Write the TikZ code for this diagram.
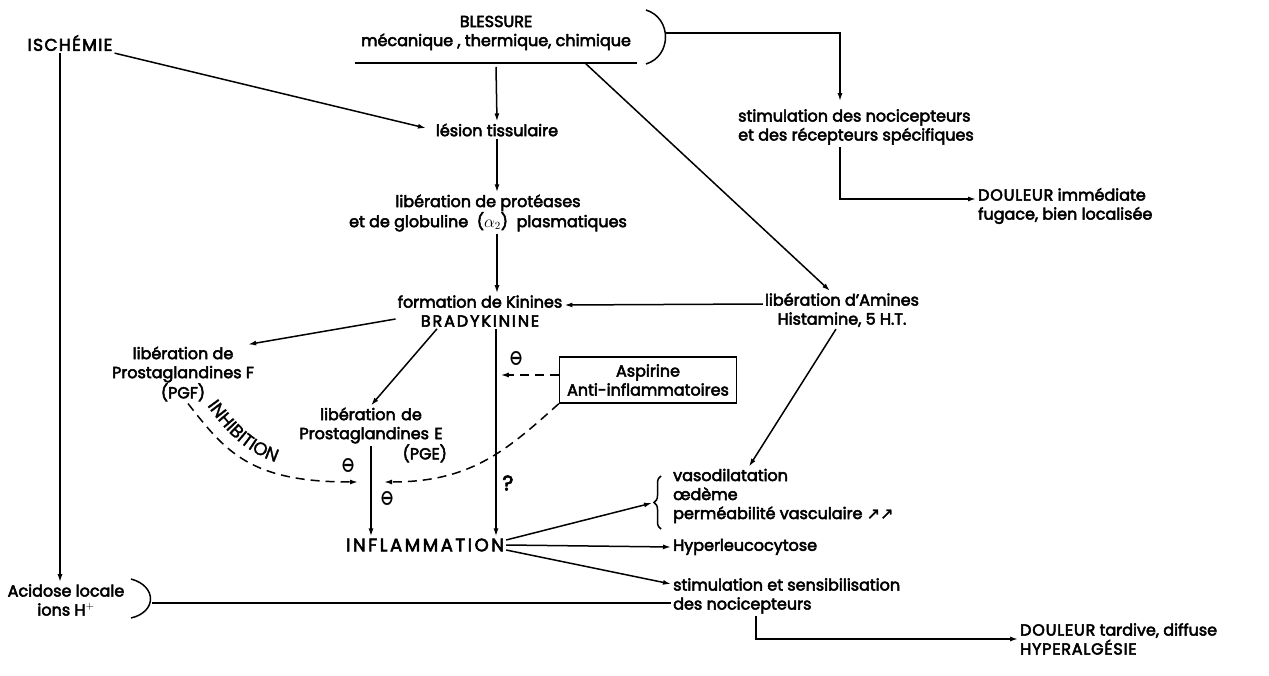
\documentclass[tikz,border=0pt]{standalone}
\usepackage{fontspec}
\usepackage{graphicx}
\setmainfont{Poppins}[FakeBold=3.2]
\newfontfamily\symfont{DejaVu Sans}[FakeBold=1.5]
\newfontfamily\inhfam{Poppins}[FakeBold=1.5]
\usetikzlibrary{arrows.meta,decorations.pathreplacing,decorations.text,calc}
\newcommand{\inhfont}{\inhfam\fontsize{18}{20}\selectfont}
\newcommand{\lsp}[2]{{\addfontfeature{LetterSpace=#1}#2}}
\newcommand{\omin}{\scalebox{0.85}[1.1]{\symfont ⊖}}
\begin{document}
\begin{tikzpicture}[x=1pt,y=-1pt,
  every node/.style={font=\fontsize{16}{19}\selectfont, inner sep=2pt},
  txt/.style={align=center},
  ltxt/.style={align=left},
  ln/.style={line width=1.5pt},
  arr/.style={line width=1.5pt,-{Latex[open,length=8pt,width=5pt]}},
  dsh/.style={dash pattern=on 9pt off 6pt},
  omi/.style={font=\fontsize{19}{21}\selectfont, inner sep=0pt}
]
\useasboundingbox[fill=white] (0,0) rectangle (1269,676);

% nodes
\node[txt] (isch) at (70,43) {\fontsize{17}{19}\selectfont\lsp{8}{ISCHÉMIE}};
\node[txt] (bless) at (496,33) {BLESSURE\\mécanique , thermique, chimique};
\node[txt] (lesion) at (497,130) {lésion tissulaire};
\node[txt] (prot) at (488,213) {libération de protéases\\et de globuline \ ($\alpha_{2}$) \ plasmatiques};
\node[txt] (kin) at (480,311) {formation de Kinines\\\lsp{12}{BRADYKININE}};
\node[txt] (amines) at (842,310) {libération d'Amines\\Histamine, 5 H.T.};
\node[ltxt, anchor=west] (stim) at (736,127) {stimulation des nocicepteurs\\et des récepteurs spécifiques};
\node[ltxt, anchor=west] (doul1) at (976,206) {\lsp{5}{DOULEUR} immédiate\\fugace, bien localisée};
\node[txt] (pgf) at (183,374) {libération de\\Prostaglandines F\\(PGF)};
\node[txt, text width=152pt] (pge) at (371,435) {libération de\\Prostaglandines E\\\makebox[\linewidth][r]{(PGE)}};
\node[txt, draw, line width=1.5pt, minimum width=177pt, minimum height=46pt, inner sep=1pt] (asp) at (648,380) {Aspirine\\Anti-inflammatoires};
\node[txt] (infl) at (425,545) {\fontsize{18}{20}\selectfont\lsp{14}{INFLAMMATION}};
\node[ltxt, anchor=west] (vaso) at (671,496) {vasodilatation\\œdème\\perméabilité vasculaire {\symfont ↗↗}};
\node[ltxt, anchor=west] (hyper) at (671,547) {Hyperleucocytose};
\node[ltxt, anchor=west] (stim2) at (671,596) {stimulation et sensibilisation\\des nocicepteurs};
\node[ltxt, anchor=west] (doul2) at (1018,639) {\lsp{5}{DOULEUR} tardive, diffuse\\\lsp{5}{HYPERALGÉSIE}};
\node[txt] (acid) at (66,600) {Acidose locale\\ions H$^{+}$};
\node[omi] (om1) at (516,358) {\omin};
\node[omi] (om2) at (348,465) {\omin};
\node[omi] (om3) at (387,498) {\omin};
\node[omi, font=\fontsize{21}{22}\selectfont] (q) at (508,483) {?};

% coordinates
\coordinate (ul1) at (355,63);
\coordinate (ul2) at (637,63);
\coordinate (bl) at (496,67);
\coordinate (bd) at (585,63);
\coordinate (pr) at (666,33);
\coordinate (e1) at (384,482);
\coordinate (e2) at (358,482);
\coordinate (bt) at (652,503);
\coordinate (ap) at (152,603);
\coordinate (pgo) at ($(pge.center)+(0,11)$);

% blessure underline and bracket
\draw[ln] (ul1) -- (ul2);
\draw[ln] (646,10) .. controls (672,18) and (672,56) .. (646,64);
% acidose bracket
\draw[ln] (131,579) .. controls (157,586) and (157,612) .. (131,618);
% brace
\draw[ln, decorate, decoration={brace, amplitude=7pt, aspect=0.5}] (661,529) -- (661,476);

% connectors
\draw[arr, shorten >=8pt] (isch.south east) -- (lesion.west);
\draw[arr] (bl) -- (lesion.north);
\draw[arr] (bd) -- ([xshift=-12pt]amines.north);
\draw[arr] (pr) -| ([xshift=104pt,yshift=6pt]stim.north west);
\draw[arr] ([xshift=104pt]stim.south west) |- ([yshift=7pt]doul1.west);
\draw[arr] (lesion.south) -- (lesion.south |- prot.north);
\draw[arr] (lesion.south |- prot.south) -- (lesion.south |- kin.north);
\draw[arr] ([yshift=6pt]amines.west) -- ([yshift=6pt]kin.east);
\draw[arr] ([yshift=-8pt]kin.west) -- ([xshift=-8pt]pgf.north east);
\draw[arr] ([xshift=-43pt]kin.south) -- (pge.north);
\draw[arr] ([xshift=16pt]kin.south) -- ([xshift=16pt]kin.south |- infl.north);
\draw[arr] (pgo) -- (pgo |- infl.north);
\draw[arr, dsh] ([yshift=5pt]asp.west) -- ++(-58,0);
\draw[arr, dsh] (asp.south west) .. controls (505,452) and (470,482) .. (e1);
\draw[arr, dsh] ([xshift=5pt]pgf.south) .. controls (226,452) and (250,482) .. (e2);
\path[decorate, decoration={text along path, text={|\inhfont|INHIBITION}, text align={left indent=2pt}}]
  (206,404) .. controls (236,446) and (262,468) .. (330,471);
\draw[arr] ([yshift=5pt]infl.east) -- (bt);
\draw[arr] (infl.east) -- (hyper.west);
\draw[arr] ([yshift=-5pt]infl.east) -- ([yshift=12pt]stim2.west);
\draw[arr] ([xshift=-6pt]amines.south) -- ([xshift=78pt]vaso.north west);
\draw[arr] ([xshift=-10pt]isch.south) -- ([xshift=-10pt]isch.south |- acid.north);
\draw[ln] (ap) -- (ap -| stim2.west);
\draw[arr] ([xshift=85pt]stim2.south west) |- (doul2.west);
\end{tikzpicture}
\end{document}
